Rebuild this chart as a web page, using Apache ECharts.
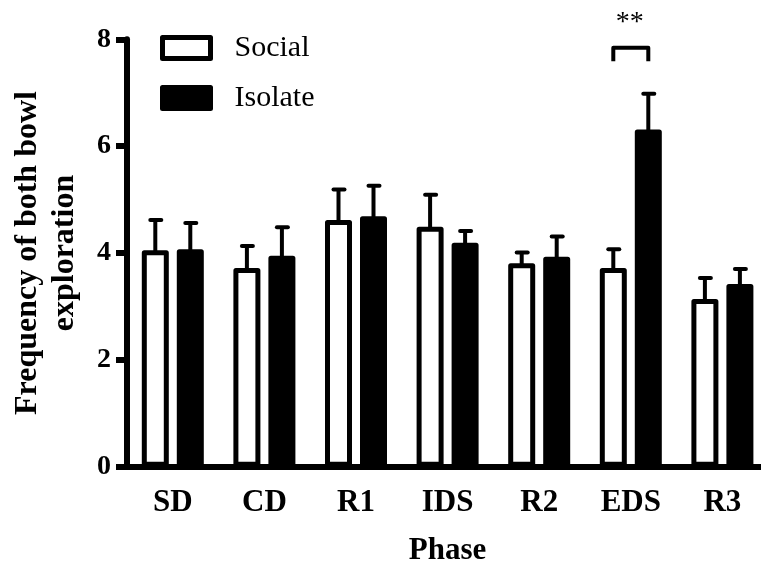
<!DOCTYPE html>
<html>
<head>
<meta charset="utf-8">
<script src="https://cdn.jsdelivr.net/npm/echarts@6/dist/echarts.min.js"></script>
<style>
html,body{margin:0;padding:0;background:#fff;}
#chart{width:761px;height:570px;}
</style>
</head>
<body>
<div id="chart"></div>
<script>
// ---- data ----
var categories = ['SD', 'CD', 'R1', 'IDS', 'R2', 'EDS', 'R3'];
var socialMean = [4.05, 3.72, 4.62, 4.49, 3.81, 3.72, 3.14];
var socialErr  = [0.57, 0.41, 0.57, 0.60, 0.20, 0.35, 0.39];
var isolateMean = [4.07, 3.95, 4.69, 4.19, 3.93, 6.31, 3.42];
var isolateErr  = [0.49, 0.53, 0.57, 0.22, 0.38, 0.67, 0.28];
var yTicks = [0, 2, 4, 6, 8];
// significance bracket: [category index, bracket top value, leg bottom value, label]
var sigCategory = 5;
var sigTop = 7.84;
var sigBottom = 7.59;
var sigLabel = '**';

// ---- styles ----
var FONT = "'Liberation Serif', 'Times New Roman', serif";
var BAR_W = 27;
var BAR_BORDER = 5;
var BAR_GAP_PX = 8;
var OFFSET = (BAR_W + BAR_GAP_PX) / 2;

var chart = echarts.init(document.getElementById('chart'), null, {renderer: 'canvas'});

function errRender(sign) {
  return function (params, api) {
    var i = api.value(0);
    var p0 = api.coord([i, api.value(1)]);
    var p1 = api.coord([i, api.value(1) + api.value(2)]);
    var x = p0[0] + sign * OFFSET;
    return {
      type: 'group',
      children: [
        {type: 'line', shape: {x1: x, y1: p0[1] + 3, x2: x, y2: p1[1]},
         style: {stroke: '#000', lineWidth: 4}},
        {type: 'line', shape: {x1: x - 5, y1: p1[1], x2: x + 6, y2: p1[1]},
         style: {stroke: '#000', lineWidth: 4, lineCap: 'round'}}
      ]
    };
  };
}

var option = {
  animation: false,
  backgroundColor: '#fff',
  grid: {left: 127, top: 39.3, width: 641.2, bottom: 103.3, containLabel: false, outerBoundsMode: 'none'},
  legend: {
    orient: 'vertical',
    left: 155,
    top: 27,
    itemWidth: 48,
    itemHeight: 21,
    itemGap: 18,
    icon: 'rect',
    data: ['Social', 'Isolate'],
    itemStyle: {borderWidth: 5, borderColor: '#000', borderJoin: 'round'},
    textStyle: {fontFamily: FONT, fontSize: 30, color: '#000', lineHeight: 32, padding: [0, 0, 0, 19]}
  },
  xAxis: {
    type: 'category',
    data: categories,
    name: 'Phase',
    nameLocation: 'middle',
    nameGap: 69,
    nameTextStyle: {fontFamily: FONT, fontSize: 31, fontWeight: 'bold', color: '#000'},
    axisLine: {lineStyle: {color: '#000', width: 6}},
    axisTick: {alignWithLabel: true, length: 13, lineStyle: {color: '#000', width: 6}},
    axisLabel: {fontFamily: FONT, fontSize: 31, fontWeight: 'bold', color: '#000', margin: 21}
  },
  yAxis: {
    type: 'value',
    min: yTicks[0],
    max: yTicks[yTicks.length - 1],
    interval: yTicks[1] - yTicks[0],
    name: 'Frequency of both bowl\nexploration',
    nameLocation: 'middle',
    nameRotate: 90,
    nameGap: 44,
    nameTextStyle: {fontFamily: FONT, fontSize: 32, fontWeight: 'bold', color: '#000', lineHeight: 37},
    axisLine: {show: true, lineStyle: {color: '#000', width: 6}},
    axisTick: {show: true, length: 11, lineStyle: {color: '#000', width: 6}},
    axisLabel: {fontFamily: FONT, fontSize: 28, fontWeight: 'bold', color: '#000', margin: 16},
    splitLine: {show: false}
  },
  series: [
    {
      name: 'Social', type: 'bar', data: socialMean,
      barWidth: BAR_W, barGap: (BAR_GAP_PX / BAR_W * 100) + '%',
      itemStyle: {color: '#fff', borderColor: '#000', borderWidth: BAR_BORDER, borderJoin: 'round'},
      z: 3
    },
    {
      name: 'Isolate', type: 'bar', data: isolateMean,
      barWidth: BAR_W,
      itemStyle: {color: '#000', borderColor: '#000', borderWidth: BAR_BORDER, borderJoin: 'round'},
      z: 3
    },
    {
      type: 'custom', name: 'SocialErr', z: 2,
      data: socialMean.map(function (m, i) { return [i, m, socialErr[i]]; }),
      renderItem: errRender(-1)
    },
    {
      type: 'custom', name: 'IsolateErr', z: 2,
      data: isolateMean.map(function (m, i) { return [i, m, isolateErr[i]]; }),
      renderItem: errRender(1)
    },
    {
      type: 'custom', name: 'Sig', z: 4, clip: false,
      data: [[sigCategory, sigTop, sigBottom]],
      renderItem: function (params, api) {
        var i = api.value(0);
        var pt = api.coord([i, api.value(1)]);
        var pb = api.coord([i, api.value(2)]);
        var xl = pt[0] - OFFSET, xr = pt[0] + OFFSET;
        return {
          type: 'group',
          children: [
            {type: 'polyline', shape: {points: [[xl, pb[1]], [xl, pt[1]], [xr, pt[1]], [xr, pb[1]]]},
             style: {stroke: '#000', lineWidth: 4, fill: null, lineJoin: 'round'}},
            {type: 'text', style: {text: sigLabel, x: pt[0] - 1, y: pt[1] - 25,
             textAlign: 'center', textVerticalAlign: 'middle',
             font: '28px ' + FONT, fill: '#000'}}
          ]
        };
      }
    }
  ]
};
chart.setOption(option);
</script>
</body>
</html>
